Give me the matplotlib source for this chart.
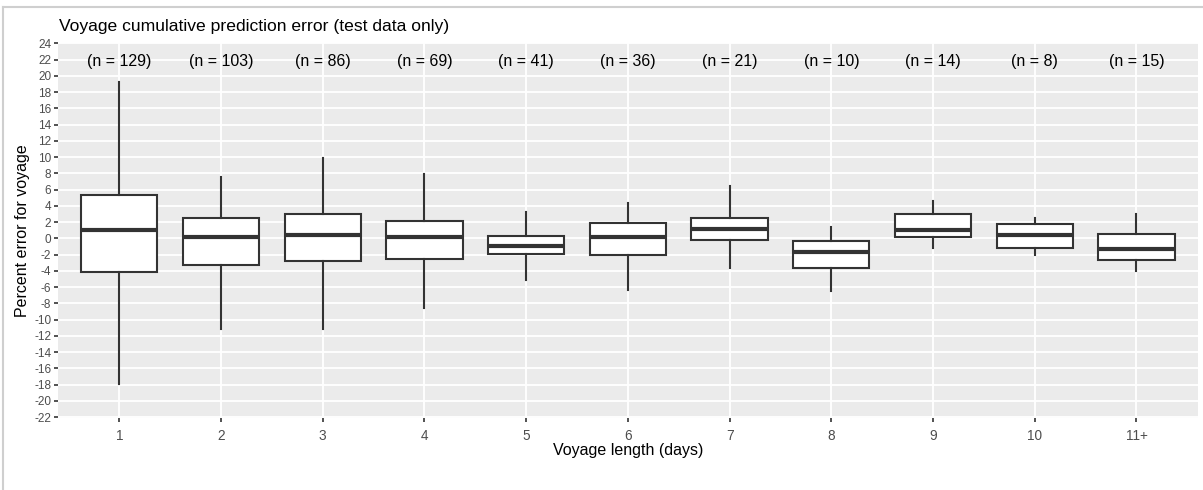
"""
Voyage cumulative prediction error, boxplot per voyage length.
"""

import matplotlib
matplotlib.use("Agg")
import numpy as np
from matplotlib import pyplot as plt
from matplotlib.lines import Line2D

plt.rcParams['font.family'] = ['Liberation Sans', 'DejaVu Sans']

# %%
# Data
categories = ['1', '2', '3', '4', '5', '6', '7', '8', '9', '10', '11+']
counts = [129, 103, 86, 69, 41, 36, 21, 10, 14, 8, 15]
whisker_low = [-17.9, -11.1, -11.2, -8.6, -5.1, -6.4, -3.6, -6.5, -1.2, -2.0, -4.05]
q1 = [-4.15, -3.3, -2.8, -2.6, -1.9, -2.1, -0.2, -3.6, 0.17, -1.15, -2.65]
median = [1.05, 0.17, 0.4, 0.2, -1.0, 0.2, 1.1, -1.7, 1.03, 0.37, -1.3]
q3 = [5.4, 2.45, 2.95, 2.2, 0.33, 1.9, 2.45, -0.37, 3.0, 1.76, 0.58]
whisker_high = [19.25, 7.5, 9.85, 7.95, 3.25, 4.4, 6.4, 1.45, 4.55, 2.45, 3.05]

y_ticks = np.arange(-22, 25, 2)
label_y = 22


def main():
    W, H = 1203, 490
    fig = plt.figure(figsize=(W / 100, H / 100), dpi=100)
    fig.patch.set_facecolor('white')

    # panel placement in pixels
    left, right, top, bottom = 58.3, 1197.5, 43.0, 417.5
    ax = fig.add_axes([left / W, 1 - bottom / H, (right - left) / W, (bottom - top) / H])
    ax.set_facecolor('#EBEBEB')

    stats = []
    for i in range(len(categories)):
        stats.append(dict(whislo=whisker_low[i], q1=q1[i], med=median[i],
                          q3=q3[i], whishi=whisker_high[i], fliers=[]))

    dark = '#333333'
    positions = np.arange(1, len(categories) + 1)
    ax.bxp(stats, positions=positions, widths=0.75, patch_artist=True,
           showcaps=False, showfliers=False,
           boxprops=dict(facecolor='white', edgecolor=dark, linewidth=1.5),
           whiskerprops=dict(color=dark, linewidth=1.5),
           medianprops=dict(color=dark, linewidth=3, solid_capstyle='butt'),
           zorder=3)

    for x, n in zip(positions, counts):
        ax.text(x, label_y, f'(n = {n})', ha='center', va='center_baseline',
                fontsize=11.5, color='black', zorder=4)

    ax.set_xlim(0.4, len(categories) + 0.6)
    ax.set_ylim(-22.05, 24.05)
    ax.set_xticks(positions)
    ax.set_xticklabels(categories)
    ax.set_yticks(y_ticks)
    ax.set_yticklabels([str(v) for v in y_ticks])

    ax.grid(True, color='white', linewidth=1.3, zorder=0)
    ax.set_axisbelow(True)
    for s in ax.spines.values():
        s.set_visible(False)
    ax.tick_params(axis='both', colors=dark, length=3, width=1.2,
                   labelcolor='#4D4D4D', pad=2)
    ax.tick_params(axis='x', labelsize=9.8, pad=5)
    ax.tick_params(axis='y', labelsize=8.5)

    ax.set_xlabel('Voyage length (days)', fontsize=11.5, labelpad=0)
    ax.set_ylabel('Percent error for voyage', fontsize=11.5, labelpad=3)
    ax.set_title('Voyage cumulative prediction error (test data only)',
                 fontsize=12.6, loc='left', x=0.001, pad=9)

    # thin grey frame around the screenshot
    fig.add_artist(Line2D([3 / W, 1], [1 - 7.5 / H, 1 - 7.5 / H],
                          transform=fig.transFigure, color='#CFCFCF', linewidth=1.5))
    fig.add_artist(Line2D([3 / W, 3 / W], [0, 1 - 7.5 / H],
                          transform=fig.transFigure, color='#CFCFCF', linewidth=1.5))

    fig.savefig('out.png', dpi=100)


if __name__ == '__main__':
    main()
